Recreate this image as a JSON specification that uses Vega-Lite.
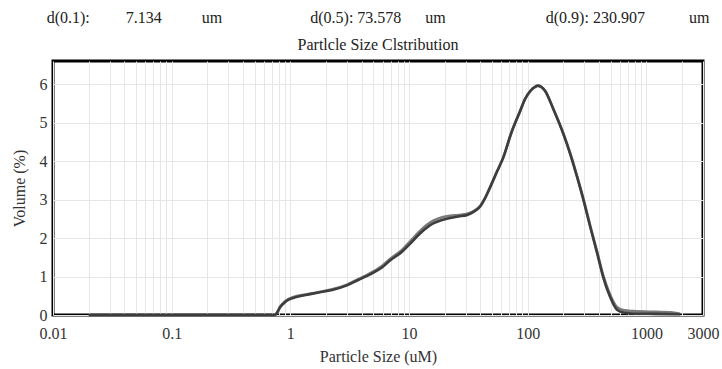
{
  "$schema": "https://vega.github.io/schema/vega-lite/v6.json",
  "width": 650,
  "height": 254,
  "autosize": "none",
  "padding": {"left": 53, "top": 61, "right": 19, "bottom": 54},
  "background": "white",
  "title": {
    "text": ["d(0.1):\u00a0\u00a0\u00a0\u00a0\u00a0\u00a0\u00a0\u00a0\u00a07.134\u00a0\u00a0\u00a0\u00a0\u00a0\u00a0\u00a0\u00a0\u00a0\u00a0um\u00a0\u00a0\u00a0\u00a0\u00a0\u00a0\u00a0\u00a0\u00a0\u00a0\u00a0\u00a0\u00a0\u00a0\u00a0\u00a0\u00a0\u00a0\u00a0\u00a0\u00a0\u00a0d(0.5): 73.578\u00a0\u00a0\u00a0\u00a0\u00a0\u00a0um\u00a0\u00a0\u00a0\u00a0\u00a0\u00a0\u00a0\u00a0\u00a0\u00a0\u00a0\u00a0\u00a0\u00a0\u00a0\u00a0\u00a0\u00a0\u00a0\u00a0\u00a0\u00a0\u00a0\u00a0\u00a0d(0.9): 230.907\u00a0\u00a0\u00a0\u00a0\u00a0\u00a0\u00a0\u00a0\u00a0\u00a0\u00a0um", "Partlcle Size Clstribution"],
    "font": "Liberation Serif",
    "fontSize": 16,
    "fontWeight": "normal",
    "color": "#222222",
    "lineHeight": 27,
    "offset": 8,
    "anchor": "middle"
  },
  "config": {
    "font": "Liberation Serif",
    "view": {"stroke": "#000000", "strokeWidth": 3},
    "axis": {
      "labelFont": "Liberation Serif",
      "titleFont": "Liberation Serif",
      "labelFontSize": 16,
      "titleFontSize": 16,
      "titleFontWeight": "normal",
      "labelColor": "#333333",
      "titleColor": "#333333",
      "gridColor": "#e6e6e6",
      "gridWidth": 1,
      "gridOpacity": 1,
      "domain": false,
      "ticks": false
    }
  },
  "data": {
    "values": [
      {"size": 0.02, "vol": 0, "run": "B"},
      {"size": 0.1, "vol": 0, "run": "B"},
      {"size": 0.5, "vol": 0, "run": "B"},
      {"size": 0.74, "vol": 0, "run": "B"},
      {"size": 0.77, "vol": 0.06, "run": "B"},
      {"size": 0.82, "vol": 0.22, "run": "B"},
      {"size": 0.9, "vol": 0.35, "run": "B"},
      {"size": 0.96, "vol": 0.41, "run": "B"},
      {"size": 1.1, "vol": 0.48, "run": "B"},
      {"size": 1.34, "vol": 0.53, "run": "B"},
      {"size": 1.7, "vol": 0.59, "run": "B"},
      {"size": 2.25, "vol": 0.67, "run": "B"},
      {"size": 3.0, "vol": 0.79, "run": "B"},
      {"size": 3.73, "vol": 0.93, "run": "B"},
      {"size": 4.8, "vol": 1.1, "run": "B"},
      {"size": 5.95, "vol": 1.28, "run": "B"},
      {"size": 6.95, "vol": 1.46, "run": "B"},
      {"size": 8.77, "vol": 1.7, "run": "B"},
      {"size": 10.2, "vol": 1.91, "run": "B"},
      {"size": 12.5, "vol": 2.2, "run": "B"},
      {"size": 16.0, "vol": 2.45, "run": "B"},
      {"size": 19, "vol": 2.54, "run": "B"},
      {"size": 22.2, "vol": 2.58, "run": "B"},
      {"size": 26, "vol": 2.6, "run": "B"},
      {"size": 30.9, "vol": 2.63, "run": "B"},
      {"size": 35, "vol": 2.7, "run": "B"},
      {"size": 39.8, "vol": 2.84, "run": "B"},
      {"size": 44, "vol": 3.06, "run": "B"},
      {"size": 48.3, "vol": 3.33, "run": "B"},
      {"size": 55, "vol": 3.72, "run": "B"},
      {"size": 62.2, "vol": 4.09, "run": "B"},
      {"size": 73, "vol": 4.74, "run": "B"},
      {"size": 86.5, "vol": 5.3, "run": "B"},
      {"size": 95, "vol": 5.6, "run": "B"},
      {"size": 105, "vol": 5.81, "run": "B"},
      {"size": 115, "vol": 5.92, "run": "B"},
      {"size": 122, "vol": 5.95, "run": "B"},
      {"size": 130, "vol": 5.92, "run": "B"},
      {"size": 140, "vol": 5.82, "run": "B"},
      {"size": 164, "vol": 5.36, "run": "B"},
      {"size": 199, "vol": 4.73, "run": "B"},
      {"size": 230, "vol": 4.17, "run": "B"},
      {"size": 261, "vol": 3.6, "run": "B"},
      {"size": 300, "vol": 2.93, "run": "B"},
      {"size": 337, "vol": 2.31, "run": "B"},
      {"size": 385, "vol": 1.64, "run": "B"},
      {"size": 433, "vol": 1.03, "run": "B"},
      {"size": 490, "vol": 0.56, "run": "B"},
      {"size": 568, "vol": 0.2, "run": "B"},
      {"size": 650, "vol": 0.12, "run": "B"},
      {"size": 774, "vol": 0.1, "run": "B"},
      {"size": 1200, "vol": 0.08, "run": "B"},
      {"size": 1600, "vol": 0.07, "run": "B"},
      {"size": 1926, "vol": 0.03, "run": "B"},
      {"size": 0.02, "vol": 0, "run": "A"},
      {"size": 0.1, "vol": 0, "run": "A"},
      {"size": 0.5, "vol": 0, "run": "A"},
      {"size": 0.74, "vol": 0, "run": "A"},
      {"size": 0.77, "vol": 0.05, "run": "A"},
      {"size": 0.82, "vol": 0.2, "run": "A"},
      {"size": 0.9, "vol": 0.33, "run": "A"},
      {"size": 0.96, "vol": 0.39, "run": "A"},
      {"size": 1.1, "vol": 0.46, "run": "A"},
      {"size": 1.34, "vol": 0.52, "run": "A"},
      {"size": 1.7, "vol": 0.58, "run": "A"},
      {"size": 2.25, "vol": 0.65, "run": "A"},
      {"size": 3.0, "vol": 0.77, "run": "A"},
      {"size": 3.73, "vol": 0.91, "run": "A"},
      {"size": 4.8, "vol": 1.07, "run": "A"},
      {"size": 5.95, "vol": 1.24, "run": "A"},
      {"size": 6.95, "vol": 1.42, "run": "A"},
      {"size": 8.77, "vol": 1.65, "run": "A"},
      {"size": 10.2, "vol": 1.85, "run": "A"},
      {"size": 12.5, "vol": 2.13, "run": "A"},
      {"size": 16.0, "vol": 2.38, "run": "A"},
      {"size": 19, "vol": 2.47, "run": "A"},
      {"size": 22.2, "vol": 2.52, "run": "A"},
      {"size": 26, "vol": 2.56, "run": "A"},
      {"size": 30.9, "vol": 2.6, "run": "A"},
      {"size": 35, "vol": 2.68, "run": "A"},
      {"size": 39.8, "vol": 2.82, "run": "A"},
      {"size": 44, "vol": 3.05, "run": "A"},
      {"size": 48.3, "vol": 3.32, "run": "A"},
      {"size": 55, "vol": 3.72, "run": "A"},
      {"size": 62.2, "vol": 4.09, "run": "A"},
      {"size": 73, "vol": 4.75, "run": "A"},
      {"size": 86.5, "vol": 5.31, "run": "A"},
      {"size": 95, "vol": 5.62, "run": "A"},
      {"size": 105, "vol": 5.82, "run": "A"},
      {"size": 115, "vol": 5.93, "run": "A"},
      {"size": 122, "vol": 5.96, "run": "A"},
      {"size": 130, "vol": 5.93, "run": "A"},
      {"size": 140, "vol": 5.83, "run": "A"},
      {"size": 164, "vol": 5.36, "run": "A"},
      {"size": 199, "vol": 4.72, "run": "A"},
      {"size": 230, "vol": 4.15, "run": "A"},
      {"size": 261, "vol": 3.58, "run": "A"},
      {"size": 300, "vol": 2.9, "run": "A"},
      {"size": 337, "vol": 2.28, "run": "A"},
      {"size": 385, "vol": 1.6, "run": "A"},
      {"size": 433, "vol": 0.98, "run": "A"},
      {"size": 490, "vol": 0.5, "run": "A"},
      {"size": 568, "vol": 0.13, "run": "A"},
      {"size": 650, "vol": 0.06, "run": "A"},
      {"size": 774, "vol": 0.04, "run": "A"},
      {"size": 1200, "vol": 0.03, "run": "A"},
      {"size": 1926, "vol": 0.02, "run": "A"}
    ]
  },
  "mark": {"type": "line", "interpolate": "monotone", "strokeWidth": 2.6},
  "encoding": {
    "x": {
      "field": "size",
      "type": "quantitative",
      "scale": {"type": "log", "domain": [0.01, 3000], "nice": false},
      "axis": {
        "title": "Particle Size (uM)",
        "values": [0.01, 0.02, 0.03, 0.04, 0.05, 0.06, 0.07, 0.08, 0.09, 0.1, 0.2, 0.3, 0.4, 0.5, 0.6, 0.7, 0.8, 0.9, 1, 2, 3, 4, 5, 6, 7, 8, 9, 10, 20, 30, 40, 50, 60, 70, 80, 90, 100, 200, 300, 400, 500, 600, 700, 800, 900, 1000, 2000, 3000],
        "labelExpr": "indexof([0.01, 0.1, 1, 10, 100, 1000, 3000], datum.value) >= 0 ? format(datum.value, '~g') : ''",
        "labelOverlap": false,
        "labelFlush": false,
        "labelPadding": 10,
        "titlePadding": 7,
        "grid": true
      }
    },
    "y": {
      "field": "vol",
      "type": "quantitative",
      "scale": {"domain": [0, 6.6], "nice": false},
      "axis": {
        "title": "Volume (%)",
        "values": [0, 1, 2, 3, 4, 5, 6],
        "labelPadding": 6,
        "titlePadding": 12,
        "grid": true
      }
    },
    "color": {
      "field": "run",
      "type": "nominal",
      "scale": {"domain": ["A", "B"], "range": ["#3d3d3d", "#7a7a7a"]},
      "legend": null
    },
    "order": {"field": "size", "type": "quantitative"}
  }
}
